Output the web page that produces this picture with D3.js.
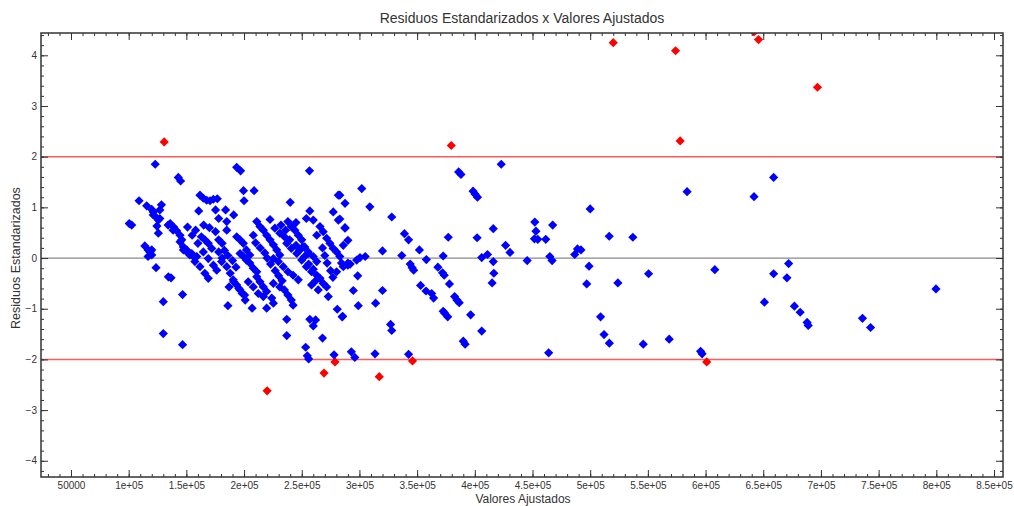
<!DOCTYPE html>
<html>
<head>
<meta charset="utf-8">
<title>Residuos Estandarizados x Valores Ajustados</title>
<script src="https://cdn.jsdelivr.net/npm/d3@7"></script>
<style>
    body { margin: 0; background: #fff; }
    text { font-family: "Liberation Sans", Arial, sans-serif; fill: #333; }
</style>
</head>
<body>
<svg id="chart" width="1014" height="506"></svg>
<script>
// fitted values are in thousands, residuals are standardized
const points = [
    // outliers
    [520, 4.25], [574, 4.09], [645.9, 4.31], [642, 4.46], [697, 3.37], [578, 2.31], [601, -2.05],
    [379.6, 2.22], [346, -2.03], [317.2, -2.34], [130.8, 2.29], [278.8, -2.05], [269.3, -2.27], [220, -2.62],
    // right side
    [659, 1.59], [642, 1.21], [584, 1.31], [500, 0.97], [516.5, 0.43], [537, 0.41], [492, 0.16], [499, -0.16],
    [497, -0.51], [524, -0.49], [550.6, -0.31], [608, -0.23], [659, -0.31], [672, -0.11], [670.5, -0.39],
    [799.7, -0.61], [651, -0.87], [677, -0.95], [682, -1.07], [688, -1.27], [689, -1.33], [736, -1.19],
    [743, -1.37], [509, -1.16], [512, -1.51], [516.6, -1.68], [546, -1.70], [568.5, -1.60], [595.7, -1.84], [597, -1.89],
    // middle
    [422.9, 1.85], [386, 1.70], [388, 1.65], [398.5, 1.32], [400.3, 1.26], [402.3, 1.20], [302, 1.37],
    [287.5, 1.08], [309, 1.01], [283, 1.24], [283, 0.77], [287.5, 0.60], [328, 0.81], [339, 0.48], [342.6, 0.36],
    [377, 0.41], [402, 0.40], [416, 0.58], [452, 0.71], [453, 0.53], [451.7, 0.38], [454.6, 0.37], [461.5, 0.37],
    [467.5, 0.65], [426.7, 0.25], [430.5, 0.11], [489, 0.18], [486.6, 0.07], [320, 0.14], [352, 0.16],
    [336.7, 0.05], [372.6, 0.04], [300.5, 0.01], [305, 0.03], [292, -0.12], [358, -0.03], [406, 0.01], [411, 0.07],
    [416, -0.07], [445.4, -0.05], [465, 0.03], [467, -0.05], [344, -0.12], [345.7, -0.19], [347, -0.24],
    [368, -0.18], [372, -0.29], [373.5, -0.34], [416.5, -0.30], [415, -0.49], [298.5, -0.35], [378, -0.51],
    [353, -0.54], [357.7, -0.65], [362.6, -0.70], [364.3, -0.79], [294.7, -0.64], [320, -0.64], [314, -0.89],
    [299, -0.94], [382.5, -0.76], [384.5, -0.83], [386.5, -0.88], [372.6, -1.05], [374, -1.09], [376.5, -1.16],
    [396.4, -1.12], [285.5, -1.15], [327, -1.31], [328, -1.43], [406, -1.44], [390, -1.64], [391.6, -1.70],
    [464, -1.87], [293, -1.85], [296, -1.96], [313.5, -1.89], [342.6, -1.90], [284.5, -0.10], [286, -0.17],
    // left cluster, upper half
    [123, 1.85], [193.6, 1.79], [197, 1.72], [256.7, 1.72], [143, 1.59], [145, 1.52], [199.5, 1.33], [208.7, 1.33],
    [200, 1.13], [240, 1.10], [109, 1.13], [115.6, 1.03], [120, 0.96], [121.3, 0.91], [128.4, 1.05], [127, 0.95],
    [121.3, 0.85], [124, 0.80], [125.7, 0.75], [127, 0.78], [102.6, 0.65], [100.5, 0.68], [124.5, 0.63], [125.7, 0.49],
    [114, 0.24], [120, 0.16], [123.7, -0.19], [134.4, -0.37],
    [161.8, 1.24], [164.7, 1.18], [167.6, 1.14], [170.5, 1.13], [173.4, 1.16], [176.8, 1.17], [160.7, 0.93],
    [175.3, 0.95], [184, 0.95], [191, 0.85], [178, 0.78], [185, 0.72], [151, 0.61], [136, 0.68], [139, 0.61],
    [141.5, 0.54], [144.5, 0.45], [146, 0.36], [147.4, 0.16], [151.7, 0.09], [156, 0.03], [163, 0.42], [166, 0.36],
    [169, 0.29], [172, 0.19], [175.3, 0.52], [178, 0.36], [181, 0.29], [185, 0.55], [193.6, 0.42], [196.5, 0.36],
    [199.4, 0.29], [202, 0.16], [205, 0.06], [134.2, 0.65], [138.5, 0.55], [147.4, 0.22], [150.3, 0.16],
    [154.6, 0.09], [159, 0.03], [116.8, 0.16], [116.8, 0.03],
    [211, 0.72], [213.8, 0.62], [216.7, 0.55], [219.6, 0.45], [222.5, 0.36], [225.4, 0.26], [228.3, 0.16],
    [231, 0.06], [222.5, 0.76], [238, 0.72], [241, 0.62], [244, 0.55], [247, 0.45], [250, 0.36], [252.6, 0.22],
    [255.6, 0.09], [226.7, 0.59], [231, 0.49], [235, 0.42], [239.5, 0.36], [254, 0.78], [257, 0.93], [260, 0.75],
    [265.8, 0.62], [268.6, 0.52], [271.6, 0.39], [274.4, 0.29], [277.3, 0.19], [280.2, 0.12], [277.3, 0.91],
    [281.7, 0.75], [287.5, 0.59], [281.7, 1.24], [283, 0.03], [290, -0.14], [297.6, -0.04],
    [170, 0.60], [165, 0.65], [158, 0.55], [155, 0.45], [232, 0.65], [236, 0.55], [245, 0.70], [263, 0.45],
    [286, 0.25], [290, 0.35],
    // left cluster, lower half
    [118.5, 0.12], [120, 0.06], [136.7, -0.39], [146.7, -0.72], [130, -0.86], [130, -1.49], [146.7, -1.71],
    [144.5, 0.32], [149, 0.16], [153, 0.06], [157.4, -0.07], [161.8, -0.17], [166, -0.30], [169, -0.40],
    [160, 0.29], [164.7, 0.12], [169, -0.01], [173.4, -0.14], [176.3, -0.24],
    [180.6, -0.07], [185, -0.17], [188, -0.30], [190.6, -0.43], [193.6, -0.53], [196.5, -0.63], [200.5, -0.73],
    [187, -0.57], [191, -0.47], [195.5, -0.60], [198.4, -0.70], [201, -0.83], [186, -0.94],
    [196.5, 0.09], [199.4, 0.03], [202, -0.04], [205, -0.10], [208, -0.20], [211, -0.27],
    [211, -0.37], [213.8, -0.47], [216.7, -0.57], [219.6, -0.66], [224, -0.79], [225.4, -0.89],
    [207, -0.99], [219.6, -0.99], [203.6, -0.47], [208, -0.57], [212.3, -0.70], [216.7, -0.76],
    [225.4, -0.50], [231, -0.57], [235, -0.63], [238, -0.73], [241, -0.83], [242.5, -0.93],
    [225.4, -0.01], [229.7, -0.07], [234, -0.17], [238, -0.27], [242.5, -0.34], [247, -0.43],
    [237, 0.29], [241, 0.19], [245.7, 0.09], [250, -0.04], [254, -0.17], [258.5, -0.27], [263, -0.34],
    [265.8, -0.40], [268.6, -0.50], [271.6, -0.57], [251, 0.22], [255.6, 0.12], [260, 0.03], [263, -0.07],
    [258.5, -0.53], [264.3, -0.63], [273, -0.76],
    [237, -1.21], [237, -1.53], [257, -1.21], [262, -1.22], [260, -1.34], [268, -1.58], [253.4, -1.76],
    [254.8, -1.93], [256, -1.99], [280.8, -1.01], [285, -1.16], [278, -1.91], [280.2, -0.27], [290, -0.10],
    [208, 0.45], [210, 0.30], [214, 0.20], [218, 0.10], [220, 0.00], [223, -0.12], [227, -0.25], [230, -0.35],
    [233, -0.45], [245, 0.25], [248, 0.15], [252, 0.02], [256, -0.12], [260, -0.22], [262, -0.45],
    [268, 0.20], [270, 0.05], [272, -0.10], [275, -0.25], [277, -0.38], [183, 0.15], [186, 0.05], [190, -0.05],
    [193, -0.18], [178, 0.12], [181, 0.00]
];

const xTickValues = [50, 100, 150, 200, 250, 300, 350, 400, 450, 500, 550, 600, 650, 700, 750, 800, 850];
const xTickLabels = ['50000', '1e+05', '1.5e+05', '2e+05', '2.5e+05', '3e+05', '3.5e+05', '4e+05', '4.5e+05',
    '5e+05', '5.5e+05', '6e+05', '6.5e+05', '7e+05', '7.5e+05', '8e+05', '8.5e+05'];
const yTickValues = [-4, -3, -2, -1, 0, 1, 2, 3, 4];
const limitLines = [2, -2];

const svg = d3.select('#chart');
const margin = { top: 33, right: 11, bottom: 29, left: 41 };
const width = 1014, height = 506;

const x = d3.scaleLinear().domain([24, 857.8]).range([margin.left, width - margin.right]);
const y = d3.scaleLinear().domain([-4.32, 4.44]).range([height - margin.bottom, margin.top]);

const xMinor = d3.range(30, 851, 10);
const yMinor = d3.range(-42, 45, 2).map(d => d / 10);

svg.append('clipPath').attr('id', 'plotClip')
    .append('rect')
    .attr('x', margin.left).attr('y', margin.top)
    .attr('width', width - margin.left - margin.right)
    .attr('height', height - margin.top - margin.bottom);

// reference lines
svg.append('line')
    .attr('x1', margin.left).attr('x2', width - margin.right)
    .attr('y1', y(0)).attr('y2', y(0))
    .attr('stroke', '#8a8a8a').attr('stroke-width', 1.2);

svg.selectAll('.limit')
    .data(limitLines)
    .enter().append('line')
    .attr('class', 'limit')
    .attr('x1', margin.left).attr('x2', width - margin.right)
    .attr('y1', d => y(d)).attr('y2', d => y(d))
    .attr('stroke', '#ff5a5a').attr('stroke-width', 1.5);

// points as diamonds
const diamond = 'M0,-4.6L4.6,0L0,4.6L-4.6,0Z';
svg.append('g')
    .attr('clip-path', 'url(#plotClip)')
    .selectAll('path')
    .data(points)
    .enter().append('path')
    .attr('d', diamond)
    .attr('transform', d => `translate(${x(d[0])},${y(d[1])})`)
    .attr('fill', d => Math.abs(d[1]) > 2 ? '#ff0000' : '#0000ff');

// axes with inward ticks
function styleAxis(g) {
    g.select('.domain').remove();
    g.selectAll('line').attr('stroke', '#333');
    g.selectAll('text').attr('font-size', 10).attr('fill', '#333');
}

const xb = height - margin.bottom;
svg.append('g').attr('transform', `translate(0,${xb})`)
    .call(d3.axisBottom(x).tickValues(xMinor).tickSize(-3).tickFormat(''))
    .call(styleAxis);
svg.append('g').attr('transform', `translate(0,${xb})`)
    .call(d3.axisBottom(x).tickValues(xTickValues).tickSize(-7).tickPadding(5)
        .tickFormat((d, i) => xTickLabels[i]))
    .call(styleAxis);
svg.append('g').attr('transform', `translate(0,${margin.top})`)
    .call(d3.axisTop(x).tickValues(xMinor).tickSize(-3).tickFormat(''))
    .call(styleAxis);
svg.append('g').attr('transform', `translate(0,${margin.top})`)
    .call(d3.axisTop(x).tickValues(xTickValues).tickSize(-7).tickFormat(''))
    .call(styleAxis);

svg.append('g').attr('transform', `translate(${margin.left},0)`)
    .call(d3.axisLeft(y).tickValues(yMinor).tickSize(-3).tickFormat(''))
    .call(styleAxis);
svg.append('g').attr('transform', `translate(${margin.left},0)`)
    .call(d3.axisLeft(y).tickValues(yTickValues).tickSize(-7).tickPadding(4).tickFormat(d3.format('d')))
    .call(styleAxis);
svg.append('g').attr('transform', `translate(${width - margin.right},0)`)
    .call(d3.axisRight(y).tickValues(yMinor).tickSize(-3).tickFormat(''))
    .call(styleAxis);
svg.append('g').attr('transform', `translate(${width - margin.right},0)`)
    .call(d3.axisRight(y).tickValues(yTickValues).tickSize(-7).tickFormat(''))
    .call(styleAxis);

// frame
svg.append('rect')
    .attr('x', margin.left).attr('y', margin.top)
    .attr('width', width - margin.left - margin.right)
    .attr('height', height - margin.top - margin.bottom)
    .attr('fill', 'none').attr('stroke', '#333').attr('stroke-width', 1.5);

// titles
svg.append('text')
    .attr('x', 522).attr('y', 23)
    .attr('text-anchor', 'middle')
    .attr('font-size', 14)
    .text('Residuos Estandarizados x Valores Ajustados');

svg.append('text')
    .attr('x', 523).attr('y', 503)
    .attr('text-anchor', 'middle')
    .attr('font-size', 12)
    .text('Valores Ajustados');

svg.append('text')
    .attr('transform', `translate(20,${y(0)}) rotate(-90)`)
    .attr('text-anchor', 'middle')
    .attr('font-size', 12.5)
    .text('Residuos Estandarizados');
</script>
</body>
</html>
